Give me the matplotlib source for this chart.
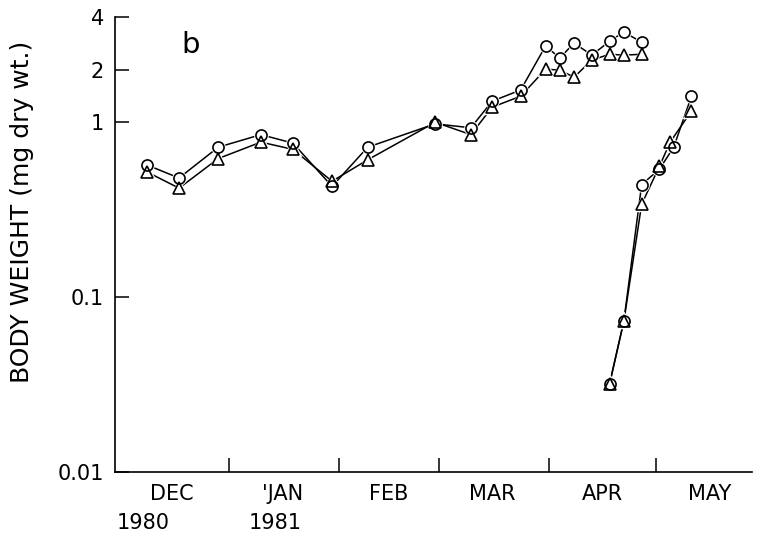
import matplotlib
matplotlib.use("Agg")
import matplotlib.pyplot as plt
import matplotlib.transforms as mtransforms
import numpy as np

# Sampling dates (first cohort, Dec 1980 - Apr 1981)
dates_1 = np.array(['1980-12-09', '1980-12-18', '1980-12-29', '1981-01-10',
                    '1981-01-19', '1981-01-30', '1981-02-09', '1981-02-28',
                    '1981-03-10', '1981-03-16', '1981-03-24', '1981-03-31',
                    '1981-04-04', '1981-04-08', '1981-04-13', '1981-04-18',
                    '1981-04-22', '1981-04-27'], dtype='datetime64[D]')
circle_1 = [0.57, 0.48, 0.72, 0.85, 0.76, 0.43, 0.72, 0.98, 0.93, 1.32,
            1.53, 2.73, 2.33, 2.84, 2.42, 2.91, 3.28, 2.87]
triangle_1 = [0.52, 0.42, 0.62, 0.77, 0.70, 0.46, 0.61, 1.00, 0.85, 1.22,
              1.41, 2.01, 1.99, 1.81, 2.27, 2.45, 2.42, 2.45]

# New cohort appearing in April
dates_2c = np.array(['1981-04-18', '1981-04-22', '1981-04-27', '1981-05-02',
                     '1981-05-06', '1981-05-11'], dtype='datetime64[D]')
circle_2 = [0.032, 0.073, 0.44, 0.54, 0.72, 1.41]
dates_2t = np.array(['1981-04-18', '1981-04-22', '1981-04-27', '1981-05-02',
                     '1981-05-05', '1981-05-11'], dtype='datetime64[D]')
triangle_2 = [0.032, 0.073, 0.34, 0.56, 0.77, 1.16]

month_starts = np.array(['1981-01-01', '1981-02-01', '1981-03-01',
                         '1981-04-01', '1981-05-01'], dtype='datetime64[D]')
month_mids = np.array(['1980-12-16', '1981-01-16', '1981-02-15',
                       '1981-03-16', '1981-04-16', '1981-05-16'], dtype='datetime64[D]')
month_names = ['DEC', "'JAN", 'FEB', 'MAR', 'APR', 'MAY']
year_pos = np.array(['1980-12-08', '1981-01-14'], dtype='datetime64[D]')
year_names = ['1980', '1981']

y_ticks = [0.01, 0.1, 1, 2, 4]
y_labels = ['0.01', '0.1', '1', '2', '4']

fig = plt.figure(figsize=(7.66, 5.35), dpi=100)
ax = fig.add_axes([0.1501, 0.1178, 0.8316, 0.8504])

series = [(dates_1, circle_1, 'o'), (dates_1, triangle_1, '^'),
          (dates_2c, circle_2, 'o'), (dates_2t, triangle_2, '^')]

# connecting lines underneath
for d, v, m in series:
    ax.plot(d, v, color='black', lw=1.1, zorder=2)
# white discs to open a small gap where lines meet markers
for d, v, m in series:
    ax.plot(d, v, ls='none', marker=m, ms=8, mfc='white', mec='white',
            mew=2.5, zorder=3)
# hollow marker outlines on top
for d, v, m in series:
    ax.plot(d, v, ls='none', marker=m, ms=8, mfc='none', mec='black',
            mew=1.2, zorder=4)

ax.set_yscale('log')
ax.set_ylim(0.01, 4)
ax.set_xlim(np.datetime64('1980-11-30'), np.datetime64('1981-05-28'))

ax.set_yticks(y_ticks)
ax.set_yticklabels(y_labels)
ax.yaxis.set_minor_locator(matplotlib.ticker.NullLocator())
ax.tick_params(axis='y', which='major', direction='in', length=10, width=1.1,
               labelsize=15, pad=8)

ax.set_xticks(month_starts)
ax.set_xticklabels([])
ax.set_xticks(month_mids, minor=True)
ax.set_xticklabels(month_names, minor=True)
ax.tick_params(axis='x', which='major', direction='in', length=10, width=1.1)
ax.tick_params(axis='x', which='minor', length=0, labelsize=15, pad=9)

trans = mtransforms.blended_transform_factory(ax.transData, ax.transAxes)
for p, s in zip(year_pos, year_names):
    ax.text(p, -0.09, s, transform=trans, ha='center', va='top', fontsize=15)

for side in ['top', 'right']:
    ax.spines[side].set_visible(False)
for side in ['left', 'bottom']:
    ax.spines[side].set_linewidth(1.2)

ax.text(0.118, 0.938, 'b', transform=ax.transAxes, fontsize=21,
        ha='center', va='center')

fig.text(22 / 766, 1 - 212 / 535, 'BODY WEIGHT (mg dry wt.)', rotation=90,
         ha='center', va='center', fontsize=18)

fig.savefig('out.png', dpi=100)
